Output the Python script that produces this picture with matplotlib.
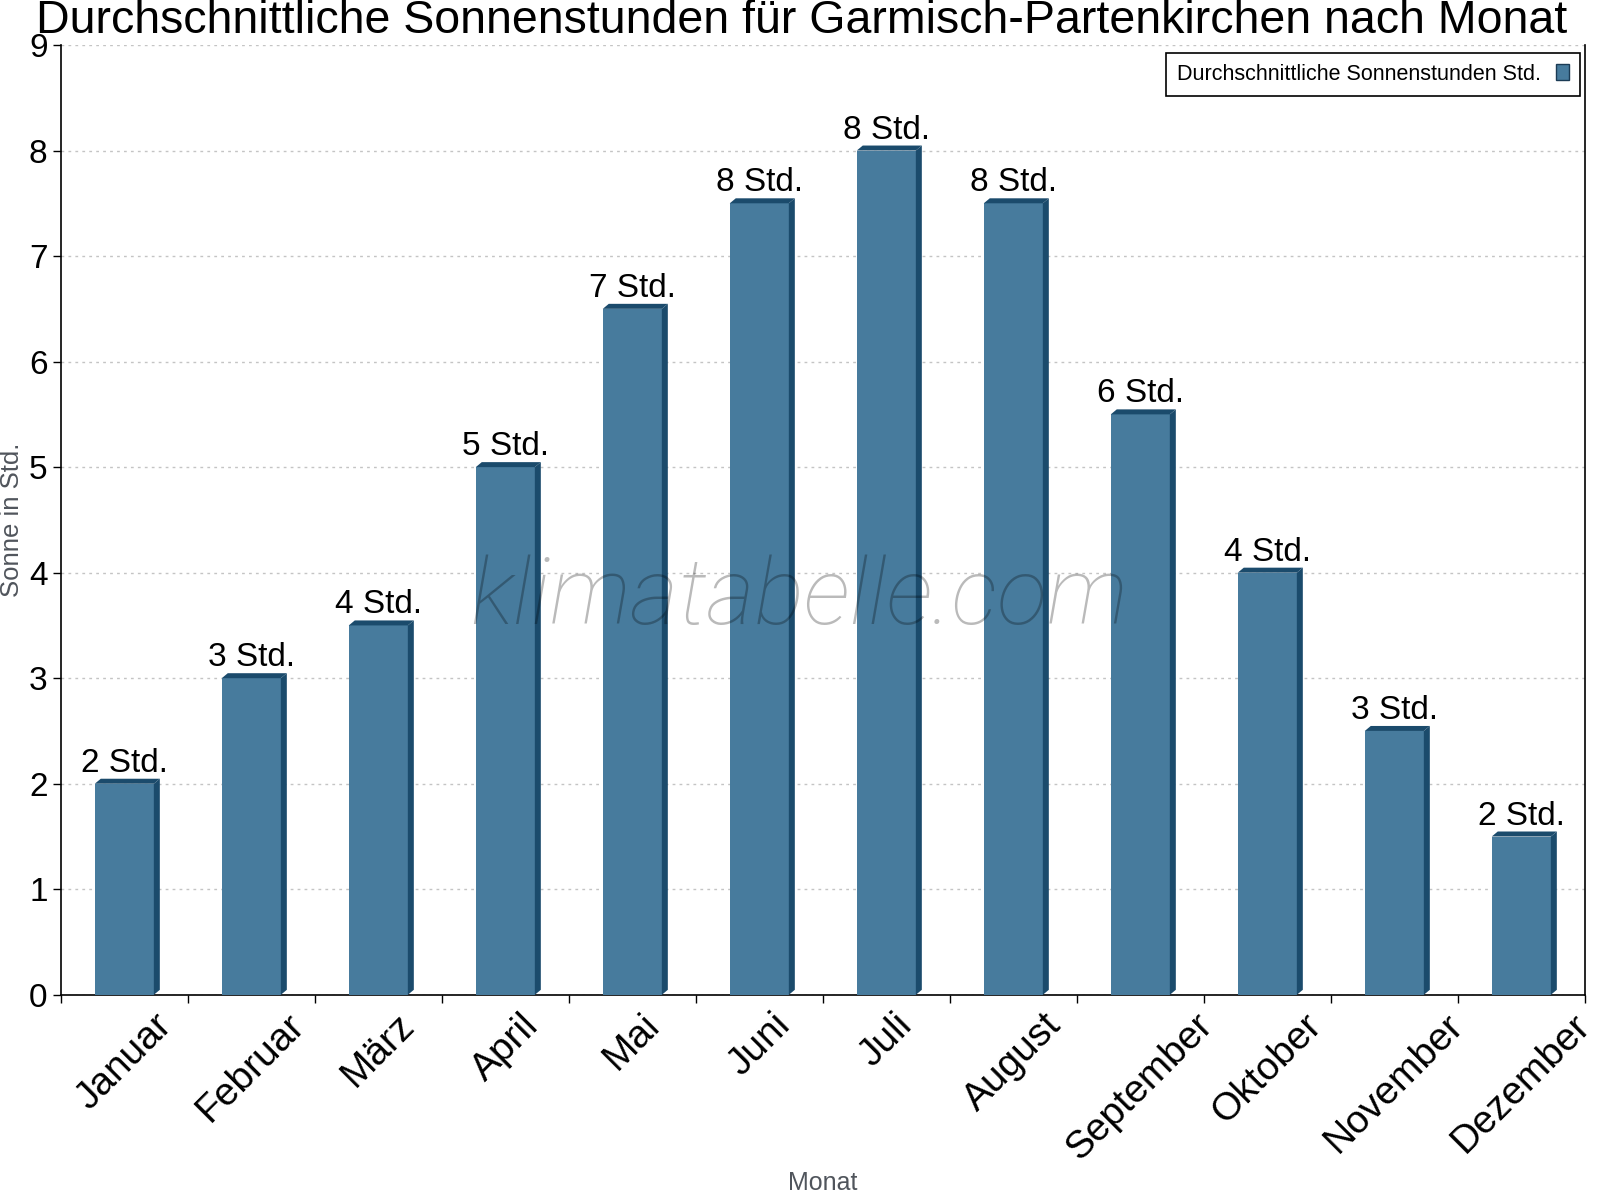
import numpy as np
import matplotlib
matplotlib.use("Agg")
import matplotlib.pyplot as plt
from matplotlib.patches import Polygon

plt.rcParams['font.family'] = ['Liberation Sans', 'DejaVu Sans']

# data
months = ['Januar', 'Februar', 'März', 'April', 'Mai', 'Juni', 'Juli',
          'August', 'September', 'Oktober', 'November', 'Dezember']
sun_hours = [2, 3, 3.5, 5, 6.5, 7.5, 8, 7.5, 5.5, 4, 2.5, 1.5]
bar_labels = ['2 Std.', '3 Std.', '4 Std.', '5 Std.', '7 Std.', '8 Std.', '8 Std.',
              '8 Std.', '6 Std.', '4 Std.', '3 Std.', '2 Std.']

front_col = '#477b9d'
dark_col = '#1b4b6c'

fig = plt.figure(figsize=(16, 12), dpi=100)
ax = fig.add_axes([0.038, 0.171, 0.9525, 0.7915])

x = np.arange(len(months))
width = 0.465
ax.set_xlim(-0.5, len(months) - 0.5)
ax.set_ylim(0, 9)

# size of the 3d offset in data units (6 px right, 5 px up)
ax_w = fig.get_figwidth() * fig.dpi * 0.9525
ax_h = fig.get_figheight() * fig.dpi * 0.7915
ddx = 6 / ax_w * len(months)
ddy = 5 / ax_h * 9

ax.bar(x, sun_hours, width=width, color=front_col, zorder=3)
for xi, h in zip(x, sun_hours):
    x0 = xi - width / 2
    x1 = xi + width / 2
    side = Polygon([(x1, 0), (x1, h), (x1 + ddx, h + ddy), (x1 + ddx, ddy)],
                   closed=True, facecolor=dark_col, edgecolor='none', zorder=3)
    top = Polygon([(x0, h), (x1, h), (x1 + ddx, h + ddy), (x0 + ddx, h + ddy)],
                  closed=True, facecolor=dark_col, edgecolor='none', zorder=3)
    ax.add_patch(side)
    ax.add_patch(top)

for xi, h, lab in zip(x, sun_hours, bar_labels):
    ax.annotate(lab, (xi, h), xytext=(0, 8.6), textcoords='offset points',
                ha='center', va='baseline', fontsize=24, zorder=5)

# watermark
ax.text(0.4843, 0.3905, 'klimatabelle.com', transform=ax.transAxes, fontsize=67,
        family='Roboto', fontweight='light', style='italic', color='black',
        alpha=0.27, ha='center', va='baseline', zorder=6)

# axes styling
ax.set_xticks(x)
ax.set_xticklabels(months, rotation=45, ha='center', va='top', fontsize=28)
ax.set_xticks(np.arange(-0.5, len(months), 1), minor=True)
ax.tick_params(axis='x', which='major', length=0, pad=9)
ax.tick_params(axis='x', which='minor', length=6, direction='out', width=1)
ax.set_yticks(range(0, 10))
ax.tick_params(axis='y', labelsize=24, length=6, direction='out', width=1, pad=3.5)

ax.grid(axis='y', linestyle=(0, (2, 3)), color='#c4c4c4', linewidth=1, zorder=0)
ax.spines['top'].set_visible(False)
for s in ['left', 'bottom', 'right']:
    ax.spines[s].set_linewidth(1.2)

ax.set_ylabel('Sonne in Std.', fontsize=18.5, color='#50555c')
ax.yaxis.set_label_coords(-0.0243, 0.5)
fig.text(0.514, 1 - 1183 / 1200, 'Monat', fontsize=18, color='#50555c',
         ha='center', va='center')

fig.text(0.501, 1 - 33 / 1200,
         'Durchschnittliche Sonnenstunden für Garmisch-Partenkirchen nach Monat',
         fontsize=33.5, ha='center', va='baseline')

leg = ax.legend([plt.Rectangle((0, 0), 1, 1, facecolor=front_col, edgecolor='#1b3b55',
                               linewidth=1)],
                ['Durchschnittliche Sonnenstunden Std.'],
                loc='upper right', bbox_to_anchor=(0.9967, 0.9916), fontsize=15.5,
                markerfirst=False, fancybox=False, framealpha=1,
                handlelength=0.6, handleheight=0.8, handletextpad=0.7,
                borderpad=0.5, borderaxespad=0)
leg.get_frame().set_edgecolor('black')
leg.get_frame().set_linewidth(1.2)

fig.savefig('out.png', dpi=100)
